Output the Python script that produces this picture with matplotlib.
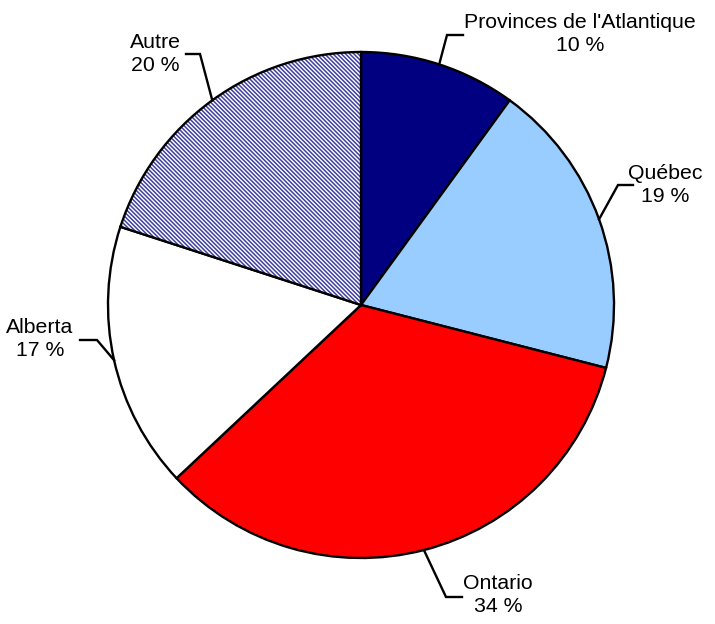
import numpy as np
import matplotlib
matplotlib.use('Agg')
import matplotlib.pyplot as plt
from matplotlib.patches import Wedge

plt.rcParams['font.family'] = ['Liberation Sans', 'DejaVu Sans']
plt.rcParams['hatch.linewidth'] = 1.1

regions = ['Provinces de l\'Atlantique', 'Québec', 'Ontario', 'Alberta', 'Autre']
parts = [10, 19, 34, 17, 20]
colors = ['#000080', '#99CCFF', '#FF0000', '#FFFFFF', '#FFFFFF']

# mise en page (pixels, origine en haut a gauche)
W, H = 715, 624
cx, cy, R = 361, 305, 253
label_pos = [(580, 34), (665, 185), (498, 595), (40, 339), (155, 54)]
elbows = [[(447, 35), (463, 35)],
          [(618, 185), (633, 185)],
          [(446, 597), (462, 597)],
          [(97, 340), (80, 340)],
          [(200, 54), (186, 54)]]

fig = plt.figure(figsize=(W / 100, H / 100), dpi=100)
ax = fig.add_axes([0, 0, 1, 1])

wedges, _ = ax.pie(parts, colors=colors, startangle=90, counterclock=False,
                   center=(cx, H - cy), radius=R,
                   wedgeprops=dict(edgecolor='black', linewidth=1.7))
wedges[4].set_hatch('\\' * 8)
wedges[4].set_edgecolor('#4040A0')
wedges[4].set_linewidth(0)
# contour noir par-dessus le motif
w4 = wedges[4]
ax.add_patch(Wedge(w4.center, w4.r, w4.theta1, w4.theta2, facecolor='none',
                   edgecolor='black', linewidth=1.7, zorder=3))

ax.set_xlim(0, W)
ax.set_ylim(0, H)
ax.set_aspect('equal')
ax.axis('off')

for w, name, p, (lx, ly), el in zip(wedges, regions, parts, label_pos, elbows):
    mid = np.deg2rad((w.theta1 + w.theta2) / 2)
    ax_x = cx + R * np.cos(mid)
    ax_y = (H - cy) + R * np.sin(mid)
    xs = [ax_x] + [e[0] for e in el]
    ys = [ax_y] + [H - e[1] for e in el]
    ax.plot(xs, ys, color='black', linewidth=1.7, solid_joinstyle='miter')
    ax.text(lx, H - ly, f'{name}\n{p} %', ha='center', va='center',
            fontsize=15.3, linespacing=1.3)

fig.savefig('out.png', dpi=100)
